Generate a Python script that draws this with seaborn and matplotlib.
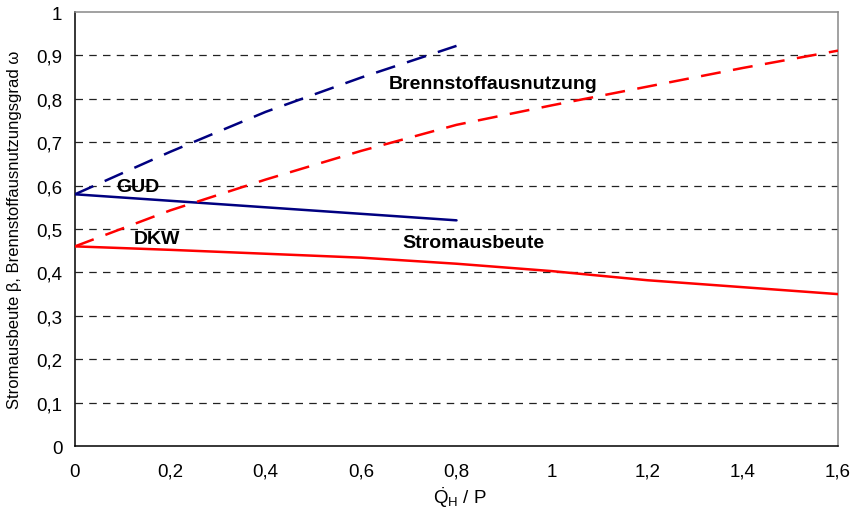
import pandas as pd
import numpy as np
import matplotlib
matplotlib.use('Agg')
import matplotlib.pyplot as plt
import seaborn as sns

# -------------------------
# Data
# -------------------------
gud_x = [0.0, 0.2, 0.4, 0.6, 0.8]
gud_beta = [0.58, 0.565, 0.55, 0.535, 0.52]
gud_omega = [0.58, 0.678, 0.77, 0.849, 0.922]

dkw_x = [0.0, 0.2, 0.4, 0.6, 0.8, 1.0, 1.2, 1.4, 1.6]
dkw_beta = [0.46, 0.452, 0.443, 0.434, 0.42, 0.403, 0.382, 0.366, 0.35]
dkw_omega = [0.46, 0.543, 0.614, 0.68, 0.74, 0.785, 0.828, 0.871, 0.911]

x_ticks = [0, 0.2, 0.4, 0.6, 0.8, 1.0, 1.2, 1.4, 1.6]
x_labels = ['0', '0,2', '0,4', '0,6', '0,8', '1', '1,2', '1,4', '1,6']
y_ticks = [0, 0.1, 0.2, 0.3, 0.4, 0.5, 0.6, 0.7, 0.8, 0.9, 1.0]
y_labels = ['0', '0,1', '0,2', '0,3', '0,4', '0,5', '0,6', '0,7', '0,8', '0,9', '1']

df_gud = pd.DataFrame({'x': gud_x, 'beta': gud_beta, 'omega': gud_omega})
df_dkw = pd.DataFrame({'x': dkw_x, 'beta': dkw_beta, 'omega': dkw_omega})

# -------------------------
# Styling
# -------------------------
sns.set_style('white')
plt.rcParams['font.family'] = ['Liberation Sans', 'DejaVu Sans']
plt.rcParams['mathtext.fontset'] = 'custom'
plt.rcParams['mathtext.rm'] = 'Liberation Sans'
plt.rcParams['mathtext.it'] = 'Liberation Sans:italic'
for key in ['text.color', 'axes.labelcolor', 'xtick.color', 'ytick.color']:
    plt.rcParams[key] = 'black'

navy = '#000080'
red = '#FF0000'

fig, ax = plt.subplots(figsize=(8.54, 5.10), dpi=100)
fig.subplots_adjust(left=0.0878, right=0.9813, top=0.9745, bottom=0.1235)

# horizontal dashed grid
for yv in y_ticks[1:-1]:
    ax.axhline(yv, color='#222222', linestyle=(0, (6, 5)), linewidth=0.9, zorder=1)

# -------------------------
# Lines
# -------------------------
sns.lineplot(data=df_gud, x='x', y='omega', color=navy, linewidth=1.8, ax=ax, zorder=3)
ax.lines[-1].set_dashes([8, 5])
sns.lineplot(data=df_gud, x='x', y='beta', color=navy, linewidth=1.8, ax=ax, zorder=3)
sns.lineplot(data=df_dkw, x='x', y='omega', color=red, linewidth=1.8, ax=ax, zorder=3)
ax.lines[-1].set_dashes([8, 5])
sns.lineplot(data=df_dkw, x='x', y='beta', color=red, linewidth=1.8, ax=ax, zorder=3)

# annotations
ax.text(0.132, 0.599, 'GUD', fontsize=14, fontweight='bold', ha='center', va='center')
ax.text(0.172, 0.477, 'DKW', fontsize=14, fontweight='bold', ha='center', va='center')
ax.text(0.877, 0.836, 'Brennstoffausnutzung', fontsize=14, fontweight='bold', ha='center', va='center')
ax.text(0.835, 0.470, 'Stromausbeute', fontsize=14, fontweight='bold', ha='center', va='center')

# -------------------------
# Axes
# -------------------------
ax.set_xlim(0, 1.6)
ax.set_ylim(0, 1)
ax.set_xticks(x_ticks)
ax.set_xticklabels(x_labels)
ax.set_yticks(y_ticks)
ax.set_yticklabels(y_labels)
ax.tick_params(axis='both', direction='out', length=5, width=1, labelsize=13.5, color='black', pad=4)
ax.tick_params(axis='x', pad=16.5)
for lbl in ax.get_xticklabels():
    lbl.set_verticalalignment('baseline')

ax.set_xlabel(r'$\dot{\mathrm{Q}}_{\mathrm{H}}$ / P', fontsize=13.5, va='baseline')
ax.xaxis.set_label_coords(0.505, -0.131)
ax.set_ylabel('Stromausbeute \u03b2, Brennstoffausnutzungsgrad \u03c9', fontsize=12, labelpad=10)

for side in ['left', 'bottom']:
    ax.spines[side].set_color('black')
    ax.spines[side].set_linewidth(1.1)
for side in ['top', 'right']:
    ax.spines[side].set_visible(True)
    ax.spines[side].set_color('#888888')
    ax.spines[side].set_linewidth(1.1)

plt.savefig('out.png', dpi=100)
